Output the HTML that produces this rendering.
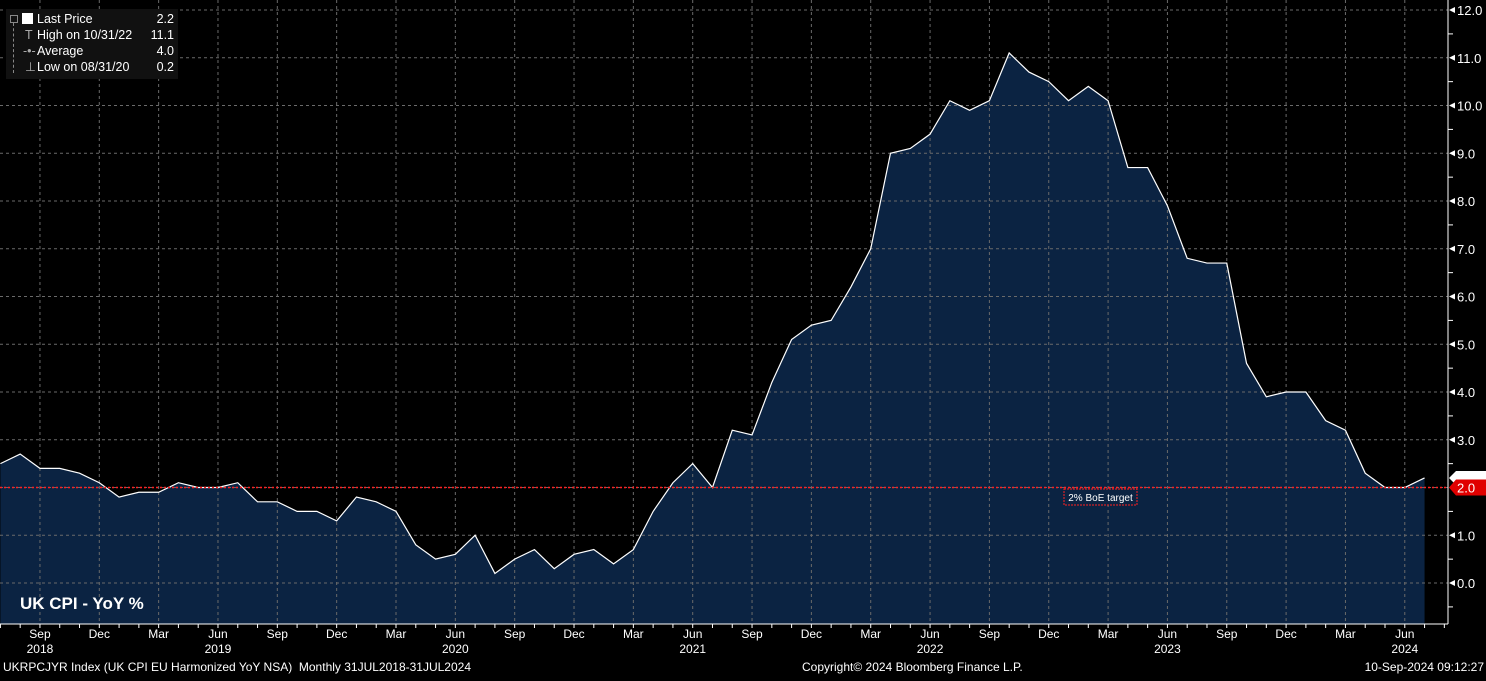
<!DOCTYPE html>
<html><head><meta charset="utf-8"><style>
body{margin:0;background:#000;width:1486px;height:676px;overflow:hidden;font-family:"Liberation Sans",sans-serif}
svg text{font-family:"Liberation Sans",sans-serif}
</style></head><body>
<svg id="c" width="1486" height="676"></svg>
<script>
const values=[2.5,2.7,2.4,2.4,2.3,2.1,
1.8,1.9,1.9,2.1,2.0,2.0,2.1,1.7,1.7,1.5,1.5,1.3,
1.8,1.7,1.5,0.8,0.5,0.6,1.0,0.2,0.5,0.7,0.3,0.6,
0.7,0.4,0.7,1.5,2.1,2.5,2.0,3.2,3.1,4.2,5.1,5.4,
5.5,6.2,7.0,9.0,9.1,9.4,10.1,9.9,10.1,11.1,10.7,10.5,
10.1,10.4,10.1,8.7,8.7,7.9,6.8,6.7,6.7,4.6,3.9,4.0,
4.0,3.4,3.2,2.3,2.0,2.0,2.2];
const yTicks=[0,1,2,3,4,5,6,7,8,9,10,11,12];
const monthNames=["Jan","Feb","Mar","Apr","May","Jun","Jul","Aug","Sep","Oct","Nov","Dec"];
const startYear=2018, startMonth=6;
const target=2.0;
const NS="http://www.w3.org/2000/svg";
const svg=document.getElementById('c');
const x=i=>0.4+i*19.78;
const y=v=>583-v*47.75;
function mk(t,a,p){const e=document.createElementNS(NS,t);for(const k in a)e.setAttribute(k,a[k]);(p||svg).appendChild(e);return e;}
// fill
let d=`M${x(0)},624 `+values.map((v,i)=>`L${x(i)},${y(v)}`).join(' ')+` L${x(values.length-1)},624 Z`;
let f=mk('path',{d,fill:'#0b2342'});


// grid horizontal
yTicks.forEach(v=>{const g=mk('line',{x1:0,x2:1448,y1:y(v),y2:y(v),stroke:'#6a6a6a','stroke-dasharray':'3,3','stroke-width':1});

});
// months
for(let i=0;i<values.length+1;i++){
  const m=(startMonth+i)%12, yr=startYear+Math.floor((startMonth+i)/12);
  mk('line',{x1:x(i),x2:x(i),y1:624,y2:628,stroke:'#fff'});
  if(m%3===2){
    const g=mk('line',{x1:x(i),x2:x(i),y1:0,y2:624,stroke:'#6a6a6a','stroke-dasharray':'3,3'});
    
    
    const t=mk('text',{x:x(i),y:638,fill:'#fff','font-size':12,'text-anchor':'middle'});t.textContent=monthNames[m];
    
    
    if(m===5){const t2=mk('text',{x:x(i),y:653,fill:'#fff','font-size':12,'text-anchor':'middle'});t2.textContent=yr;
    
    }
  }
}
// year label 2018 under Sep
const t18=mk('text',{x:x(2),y:653,fill:'#fff','font-size':12,'text-anchor':'middle'});t18.textContent='2018';
// line
const ln=mk('polyline',{points:values.map((v,i)=>`${x(i)},${y(v)}`).join(' '),fill:'none',stroke:'#fff','stroke-width':1.2});


// target line
const tl=mk('line',{x1:0,x2:1448,y1:y(target),y2:y(target),stroke:'#ff2020','stroke-dasharray':'2,2','stroke-width':1.5});


mk('rect',{x:1064,y:489,width:73,height:16,fill:'#0b2342',stroke:'#ff2020','stroke-dasharray':'2,1'});
const tt=mk('text',{x:1100.5,y:501,fill:'#fff','font-size':10,'text-anchor':'middle'});tt.textContent='2% BoE target';


// axes
mk('line',{x1:1448,x2:1448,y1:0,y2:624,stroke:'#fff'});
mk('line',{x1:0,x2:1448,y1:624,y2:624,stroke:'#fff'});
yTicks.forEach(v=>{
  mk('line',{x1:1448,x2:1453,y1:y(v)+23.9,y2:y(v)+23.9,stroke:'#fff'});
  mk('polygon',{points:`1449,${y(v)} 1455,${y(v)-3} 1455,${y(v)+3}`,fill:'#fff'});
  const t=mk('text',{x:1457,y:y(v)+5,fill:'#fff','font-size':13});t.textContent=v.toFixed(1);
  
  
});
// last value tags
const lv=values[values.length-1];
mk('polygon',{points:`1449,${y(lv)} 1456,${y(lv)-7} 1486,${y(lv)-7} 1486,${y(lv)+7} 1456,${y(lv)+7}`,fill:'#fff'});
mk('polygon',{points:`1449,${y(target)} 1456,${y(target)-8} 1486,${y(target)-8} 1486,${y(target)+8} 1456,${y(target)+8}`,fill:'#e00000'});
const rt=mk('text',{x:1457,y:y(target)+5,fill:'#fff','font-size':13});rt.textContent=target.toFixed(1);
</script>
<div style="position:absolute;left:6px;top:9px;width:172px;height:70px;background:#111;color:#fff;font-size:12.5px;line-height:16px">
<div style="position:absolute;left:16px;top:4px;width:11px;height:11px;background:#fff"></div>
<div style="position:absolute;left:4px;top:6px;width:6px;height:6px;border:1px solid #888"></div>
<div style="position:absolute;left:7px;top:14px;width:1px;height:50px;border-left:1px dashed #888"></div>
<div style="position:absolute;left:31px;top:2px">Last Price</div><div style="position:absolute;right:4px;top:2px">2.2</div>
<div style="position:absolute;left:19px;top:18px;color:#aaa">T</div>
<div style="position:absolute;left:31px;top:18px">High on 10/31/22</div><div style="position:absolute;right:4px;top:18px">11.1</div>
<div style="position:absolute;left:17px;top:34px;color:#aaa">-•-</div>
<div style="position:absolute;left:31px;top:34px">Average</div><div style="position:absolute;right:4px;top:34px">4.0</div>
<div style="position:absolute;left:19px;top:50px;color:#aaa">⊥</div>
<div style="position:absolute;left:31px;top:50px">Low on 08/31/20</div><div style="position:absolute;right:4px;top:50px">0.2</div>
</div>
<div style="position:absolute;left:20px;top:594px;color:#fff;font-weight:bold;font-size:17px">UK CPI - YoY %</div>
<div style="position:absolute;left:3px;top:660px;color:#fff;font-size:12px">UKRPCJYR Index (UK CPI EU Harmonized YoY NSA)&nbsp; Monthly 31JUL2018-31JUL2024</div>
<div style="position:absolute;left:802px;top:660px;color:#fff;font-size:12px">Copyright© 2024 Bloomberg Finance L.P.</div>
<div style="position:absolute;right:2px;top:660px;color:#fff;font-size:12px">10-Sep-2024 09:12:27</div>
</body></html>
